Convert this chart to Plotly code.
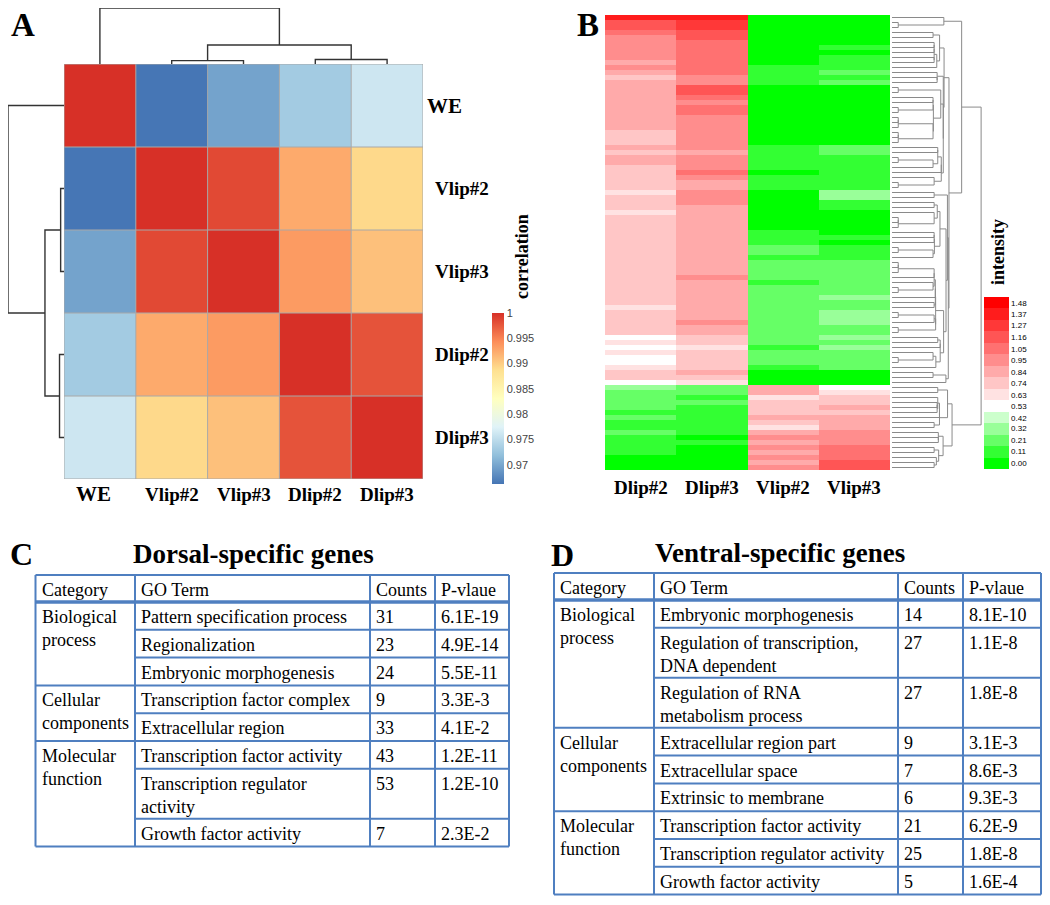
import numpy as np
import plotly.graph_objects as go

# The page body has an 8 px margin, so the figure is drawn 8 px smaller and
# every layout position below is given in window pixels, shifted by OFF.
OFF = 8
W, H = 1050 - OFF, 905 - OFF

# ---------------- Panel A data ----------------
samples_a = ["WE", "Vlip#2", "Vlip#3", "Dlip#2", "Dlip#3"]
corr_we = [1.0000, 0.9663, 0.9697, 0.9731, 0.9761]
corr_vlip2 = [0.9663, 1.0000, 0.9985, 0.9924, 0.9892]
corr_vlip3 = [0.9697, 0.9985, 1.0000, 0.9934, 0.9909]
corr_dlip2 = [0.9731, 0.9924, 0.9934, 1.0000, 0.9979]
corr_dlip3 = [0.9761, 0.9892, 0.9909, 0.9979, 1.0000]
# hierarchical merges: [child_a, child_b, height]; new nodes numbered from 5
linkage_a = [[1, 2, 0.06], [3, 4, 0.08], [5, 6, 0.34], [0, 7, 1.00]]
corr_tickvals = [0.97, 0.975, 0.98, 0.985, 0.99, 0.995, 1.0]
corr_ticktext = ["0.97", "0.975", "0.98", "0.985", "0.99", "0.995", "1"]

# ---------------- Panel B data ----------------
samples_b = ["Dlip#2", "Dlip#3", "Vlip#2", "Vlip#3"]
int_dlip2 = [1.37, 1.16, 1.16, 1.05, 0.95, 0.95, 0.95, 0.95, 0.95, 0.84,
             0.95, 0.84, 0.74, 0.84, 0.84, 0.84, 0.84, 0.84, 0.84, 0.84,
             0.84, 0.84, 0.84, 0.74, 0.74, 0.74, 0.84, 0.74, 0.84, 0.84,
             0.74, 0.74, 0.74, 0.74, 0.74, 0.63, 0.74, 0.74, 0.74, 0.63,
             0.74, 0.74, 0.74, 0.74, 0.74, 0.74, 0.74, 0.74, 0.74, 0.74,
             0.74, 0.74, 0.74, 0.74, 0.74, 0.74, 0.74, 0.74, 0.63, 0.74,
             0.74, 0.74, 0.74, 0.74, 0.53, 0.63, 0.53, 0.63, 0.53, 0.53,
             0.63, 0.74, 0.74, 0.53, 0.32, 0.21, 0.21, 0.21, 0.21, 0.11,
             0.21, 0.11, 0.11, 0.21, 0.11, 0.11, 0.11, 0.11, 0.00, 0.00,
             0.00]
int_dlip3 = [1.37, 1.27, 1.27, 1.16, 1.16, 1.05, 1.05, 1.05, 1.05, 1.05,
             1.05, 1.05, 0.95, 0.95, 1.16, 1.16, 1.05, 0.95, 1.05, 1.05,
             0.95, 0.95, 0.95, 0.95, 0.95, 0.95, 0.95, 0.84, 0.95, 0.95,
             0.95, 1.05, 0.95, 0.84, 0.84, 0.95, 0.95, 0.95, 0.84, 0.84,
             0.84, 0.84, 0.84, 0.84, 0.84, 0.84, 0.84, 0.84, 0.84, 0.84,
             0.84, 0.84, 0.95, 0.84, 0.84, 0.84, 0.84, 0.84, 0.84, 0.84,
             0.84, 0.95, 0.84, 0.84, 0.74, 0.74, 0.63, 0.74, 0.74, 0.74,
             0.74, 0.84, 0.74, 0.63, 0.21, 0.21, 0.11, 0.21, 0.11, 0.11,
             0.11, 0.11, 0.11, 0.11, 0.00, 0.11, 0.00, 0.00, 0.00, 0.00,
             0.00]
int_vlip2 = [0.00, 0.00, 0.00, 0.00, 0.00, 0.00, 0.00, 0.00, 0.00, 0.00,
             0.11, 0.11, 0.11, 0.11, 0.00, 0.00, 0.00, 0.00, 0.00, 0.00,
             0.00, 0.00, 0.00, 0.00, 0.00, 0.00, 0.11, 0.11, 0.11, 0.11,
             0.11, 0.00, 0.11, 0.11, 0.11, 0.00, 0.00, 0.00, 0.00, 0.00,
             0.00, 0.00, 0.00, 0.11, 0.11, 0.11, 0.21, 0.21, 0.11, 0.21,
             0.21, 0.21, 0.21, 0.11, 0.21, 0.21, 0.21, 0.21, 0.21, 0.21,
             0.21, 0.21, 0.21, 0.21, 0.21, 0.21, 0.11, 0.21, 0.21, 0.21,
             0.11, 0.00, 0.00, 0.00, 0.84, 0.84, 0.63, 0.74, 0.74, 0.74,
             0.84, 0.74, 0.63, 0.84, 0.95, 0.84, 0.95, 0.84, 0.95, 0.84,
             0.95]
int_vlip3 = [0.00, 0.00, 0.00, 0.00, 0.00, 0.00, 0.11, 0.00, 0.11, 0.11,
             0.11, 0.21, 0.11, 0.21, 0.00, 0.00, 0.00, 0.00, 0.00, 0.00,
             0.00, 0.00, 0.00, 0.00, 0.00, 0.00, 0.21, 0.21, 0.11, 0.11,
             0.11, 0.11, 0.11, 0.11, 0.11, 0.32, 0.32, 0.11, 0.11, 0.00,
             0.00, 0.00, 0.00, 0.00, 0.11, 0.00, 0.11, 0.11, 0.11, 0.21,
             0.21, 0.21, 0.21, 0.21, 0.21, 0.21, 0.32, 0.21, 0.21, 0.32,
             0.32, 0.32, 0.21, 0.21, 0.32, 0.21, 0.32, 0.21, 0.21, 0.21,
             0.21, 0.00, 0.00, 0.00, 0.53, 0.63, 0.74, 0.74, 0.84, 0.74,
             0.84, 0.84, 0.84, 0.95, 0.95, 0.95, 1.05, 1.05, 1.05, 1.16,
             1.16]
intensity_ticks = [0.00, 0.11, 0.21, 0.32, 0.42, 0.53, 0.63, 0.74, 0.84,
                   0.95, 1.05, 1.16, 1.27, 1.37, 1.48]

# ---------------- Tables data ----------------
table_header = ["Category", "GO Term", "Counts", "P-vlaue"]
dorsal_title = "Dorsal-specific genes"
dorsal_categories = ["Biological<br>process", "Cellular<br>components", "Molecular<br>function"]
dorsal_terms = [["Pattern specification process", "Regionalization", "Embryonic morphogenesis"],
                ["Transcription factor complex", "Extracellular region"],
                ["Transcription factor activity", "Transcription regulator<br>activity",
                 "Growth factor activity"]]
dorsal_counts = [[31, 23, 24], [9, 33], [43, 53, 7]]
dorsal_pvalues = [["6.1E-19", "4.9E-14", "5.5E-11"], ["3.3E-3", "4.1E-2"],
                  ["1.2E-11", "1.2E-10", "2.3E-2"]]

ventral_title = "Ventral-specific genes"
ventral_categories = ["Biological<br>process", "Cellular<br>components", "Molecular<br>function"]
ventral_terms = [["Embryonic morphogenesis", "Regulation of transcription,<br>DNA dependent",
                  "Regulation of RNA<br>metabolism process"],
                 ["Extracellular region part", "Extracellular space", "Extrinsic to membrane"],
                 ["Transcription factor activity", "Transcription regulator activity",
                  "Growth factor activity"]]
ventral_counts = [[14, 27, 27], [9, 7, 6], [21, 25, 5]]
ventral_pvalues = [["8.1E-10", "1.1E-8", "1.8E-8"], ["3.1E-3", "8.6E-3", "9.3E-3"],
                   ["6.2E-9", "1.8E-8", "1.6E-4"]]

# ---------------- helpers ----------------
SERIF = "Liberation Serif, Times New Roman, serif"
SANS = "Liberation Sans, Arial, sans-serif"


def px(v):
    return (v - OFF) / W


def py(v):
    return 1 - (v - OFF) / H


fig = go.Figure()
annotations = []
shapes = []

# ---------------- Panel A ----------------
corr = np.array([corr_we, corr_vlip2, corr_vlip3, corr_dlip2, corr_dlip3])
rdylbu = ["#4575B4", "#91BFDB", "#E0F3F8", "#FFFFBF", "#FEE090", "#FC8D59", "#D73027"]
cs_a = [[i / 6, c] for i, c in enumerate(rdylbu)]
fig.add_trace(go.Heatmap(
    z=corr, x=list(range(5)), y=list(range(5)), colorscale=cs_a, zmin=0.9662, zmax=1.0,
    xaxis="x", yaxis="y", hoverinfo="skip",
    colorbar=dict(x=px(492), xanchor="left", y=py(398.5), yanchor="middle", xpad=0, ypad=0,
                  len=171, lenmode="pixels", thickness=12, outlinewidth=0,
                  tickvals=corr_tickvals, ticktext=corr_ticktext, ticks="",
                  tickfont=dict(family=SANS, size=11, color="#444"))))

for k in range(6):
    shapes.append(dict(type="line", xref="x", yref="y", x0=k - 0.5, x1=k - 0.5, y0=-0.5, y1=4.5,
                       line=dict(color="#A8A8A8", width=1)))
    shapes.append(dict(type="line", xref="x", yref="y", y0=k - 0.5, y1=k - 0.5, x0=-0.5, x1=4.5,
                       line=dict(color="#A8A8A8", width=1)))


def dendro_paths(linkage, n):
    pos = {i: float(i) for i in range(n)}
    hgt = {i: 0.0 for i in range(n)}
    p, h = [], []
    for k, (a, b, hh) in enumerate(linkage):
        p += [pos[a], pos[a], pos[b], pos[b], None]
        h += [hgt[a], hh, hh, hgt[b], None]
        pos[n + k] = (pos[a] + pos[b]) / 2
        hgt[n + k] = hh
    return p, h


dp, dh = dendro_paths(linkage_a, 5)
fig.add_trace(go.Scatter(x=dp, y=dh, mode="lines", line=dict(color="#333", width=1.4),
                         xaxis="x2", yaxis="y2", hoverinfo="skip"))
fig.add_trace(go.Scatter(x=dh, y=dp, mode="lines", line=dict(color="#333", width=1.4),
                         xaxis="x3", yaxis="y3", hoverinfo="skip"))

for i, s in enumerate(samples_a):
    big = s == "WE"
    annotations.append(dict(text=s, xref="paper", yref="y", x=px(425 if big else 433), y=i,
                            xanchor="left", yanchor="middle", showarrow=False,
                            font=dict(family=SERIF, size=21 if big else 19, color="black",
                                      weight="bold")))
    annotations.append(dict(text=s, xref="x", yref="paper", x=i, y=py(494), xshift=-6 if big else 0,
                            xanchor="center", yanchor="middle", showarrow=False,
                            font=dict(family=SERIF, size=21 if big else 19, color="black",
                                      weight="bold")))
annotations.append(dict(text="correlation", xref="paper", yref="paper", x=px(522), y=py(257),
                        textangle=-90, showarrow=False, xanchor="center", yanchor="middle",
                        font=dict(family=SERIF, size=18, color="black", weight="bold")))

# ---------------- Panel B ----------------
intensity = np.array([int_dlip2, int_dlip3, int_vlip2, int_vlip3]).T
nrows = intensity.shape[0]
nb = len(intensity_ticks)
step = (intensity_ticks[-1] - intensity_ticks[0]) / (nb - 1)
zmin_b = intensity_ticks[0] - step / 2
zmax_b = intensity_ticks[-1] + step / 2
cs_b = []
for k in range(nb):
    if k < 5:
        t = k / 5
        g = int(255 * t)
        c = "rgb(%d,255,%d)" % (g, g)
    elif k == 5:
        c = "rgb(255,255,255)"
    else:
        t = (k - 5) / 9
        g = int(255 * (1 - t))
        c = "rgb(255,%d,%d)" % (g, g)
    cs_b.append([k / nb, c])
    cs_b.append([(k + 1) / nb, c])

fig.add_trace(go.Heatmap(
    z=intensity, x=list(range(4)), y=list(range(nrows)), colorscale=cs_b, zmin=zmin_b, zmax=zmax_b,
    xaxis="x4", yaxis="y4", hoverinfo="skip",
    colorbar=dict(x=px(984), xanchor="left", y=py(383), yanchor="middle", xpad=0, ypad=0,
                  len=172, lenmode="pixels", thickness=25, outlinewidth=0,
                  tickvals=intensity_ticks, ticktext=["%.2f" % v for v in intensity_ticks],
                  ticks="",
                  tickfont=dict(family=SANS, size=8, color="black"))))


def adjacent_linkage(mat):
    clusters = [dict(m=[i], pos=float(i), h=0.0) for i in range(len(mat))]
    segs = []
    while len(clusters) > 1:
        best = None
        for k in range(len(clusters) - 1):
            a, b = clusters[k], clusters[k + 1]
            d = np.mean(np.linalg.norm(mat[a["m"]][:, None, :] - mat[b["m"]][None, :, :], axis=2))
            if best is None or d < best[0]:
                best = (d, k)
        d, k = best
        a, b = clusters[k], clusters[k + 1]
        hh = max(d, a["h"], b["h"])
        segs.append((a["pos"], a["h"], b["pos"], b["h"], hh, len(a["m"]) == 1, len(b["m"]) == 1))
        clusters[k:k + 2] = [dict(m=a["m"] + b["m"], pos=(a["pos"] + b["pos"]) / 2, h=hh)]
    return segs


segs = adjacent_linkage(intensity)
hmax = max(s[4] for s in segs)


def tx(h, leaf=False):
    if leaf:
        return 0.0
    return 0.07 + 0.93 * (h / hmax) ** 0.32


bx, by = [], []
for pa, ha, pb, hb, hh, la, lb in segs:
    bx += [tx(ha, la), tx(hh), tx(hh), tx(hb, lb), None]
    by += [pa, pa, pb, pb, None]
fig.add_trace(go.Scatter(x=bx, y=by, mode="lines", line=dict(color="#8a8a8a", width=1),
                         xaxis="x5", yaxis="y5", hoverinfo="skip"))

for i, s in enumerate(samples_b):
    annotations.append(dict(text=s, xref="x4", yref="paper", x=i, y=py(487),
                            xanchor="center", yanchor="middle", showarrow=False,
                            font=dict(family=SERIF, size=19, color="black", weight="bold")))
annotations.append(dict(text="intensity", xref="paper", yref="paper", x=px(998), y=py(252),
                        textangle=-90, showarrow=False, xanchor="center", yanchor="middle",
                        font=dict(family=SERIF, size=18, color="black", weight="bold")))

# ---------------- Tables ----------------
BLUE = "#4F7FC0"
ONE, TWO = 27.8, 50.0


def draw_table(cols, top, header_h, categories, terms, counts, pvals):
    def hline(x0, x1, y, w=2):
        shapes.append(dict(type="line", xref="paper", yref="paper", x0=px(x0), x1=px(x1),
                           y0=py(y), y1=py(y), line=dict(color=BLUE, width=w)))

    def cell(text, x, y):
        annotations.append(dict(text=text, xref="paper", yref="paper", x=px(x + 4), y=py(y + 3),
                                xanchor="left", yanchor="top", align="left", showarrow=False,
                                font=dict(family=SERIF, size=18, color="black")))

    for j, htxt in enumerate(table_header):
        cell(htxt, cols[j], top)
    y = top + header_h
    hline(cols[0], cols[-1], top)
    hline(cols[0], cols[-1], y, 3.5)
    for g, cat in enumerate(categories):
        cell(cat, cols[0], y)
        for t, term in enumerate(terms[g]):
            rh = TWO if "<br>" in term else ONE
            cell(term, cols[1], y)
            cell(str(counts[g][t]), cols[2], y)
            cell(pvals[g][t], cols[3], y)
            y += rh
            if t < len(terms[g]) - 1:
                hline(cols[1], cols[-1], y)
        hline(cols[0], cols[-1], y)
    bottom = y
    for xc in cols:
        shapes.append(dict(type="line", xref="paper", yref="paper", x0=px(xc), x1=px(xc),
                           y0=py(top), y1=py(bottom), line=dict(color=BLUE, width=2)))


draw_table([35.5, 135, 370, 435, 509], 575, 27, dorsal_categories, dorsal_terms,
           dorsal_counts, dorsal_pvalues)
draw_table([554, 654, 898, 963, 1041], 573, 27, ventral_categories, ventral_terms,
           ventral_counts, ventral_pvalues)

annotations.append(dict(text=dorsal_title, xref="paper", yref="paper", x=px(253), y=py(554),
                        xanchor="center", yanchor="middle", showarrow=False,
                        font=dict(family=SERIF, size=27, color="black", weight="bold")))
annotations.append(dict(text=ventral_title, xref="paper", yref="paper", x=px(780), y=py(553),
                        xanchor="center", yanchor="middle", showarrow=False,
                        font=dict(family=SERIF, size=27, color="black", weight="bold")))

for letter, (lx, ly, fs) in {"A": (23, 25, 33), "B": (588, 25, 33),
                             "C": (21, 554, 32), "D": (562, 555, 32)}.items():
    annotations.append(dict(text=letter, xref="paper", yref="paper", x=px(lx), y=py(ly),
                            xanchor="center", yanchor="middle", showarrow=False,
                            font=dict(family=SERIF, size=fs, color="black", weight="bold")))

# ---------------- Layout ----------------
hidden = dict(visible=False, showgrid=False, zeroline=False, fixedrange=True)
fig.update_layout(
    width=W, height=H, margin=dict(l=0, r=0, t=0, b=0),
    paper_bgcolor="white", plot_bgcolor="white", showlegend=False,
    xaxis=dict(domain=[px(64), px(423)], range=[-0.5, 4.5], anchor="y", **hidden),
    yaxis=dict(domain=[py(479), py(64)], range=[4.5, -0.5], anchor="x", **hidden),
    xaxis2=dict(domain=[px(64), px(423)], range=[-0.5, 4.5], anchor="y2", **hidden),
    yaxis2=dict(domain=[py(64), py(8)], range=[0, 1.0], anchor="x2", **hidden),
    xaxis3=dict(domain=[px(8), px(64)], range=[1.0, 0], anchor="y3", **hidden),
    yaxis3=dict(domain=[py(479), py(64)], range=[4.5, -0.5], anchor="x3", **hidden),
    xaxis4=dict(domain=[px(605), px(890)], range=[-0.5, 3.5], anchor="y4", **hidden),
    yaxis4=dict(domain=[py(470), py(15)], range=[nrows - 0.5, -0.5], anchor="x4", **hidden),
    xaxis5=dict(domain=[px(892), px(982)], range=[0, 1.01], anchor="y5", **hidden),
    yaxis5=dict(domain=[py(470), py(15)], range=[nrows - 0.5, -0.5], anchor="x5", **hidden),
    annotations=annotations, shapes=shapes,
)

fig.write_html("out.html")
